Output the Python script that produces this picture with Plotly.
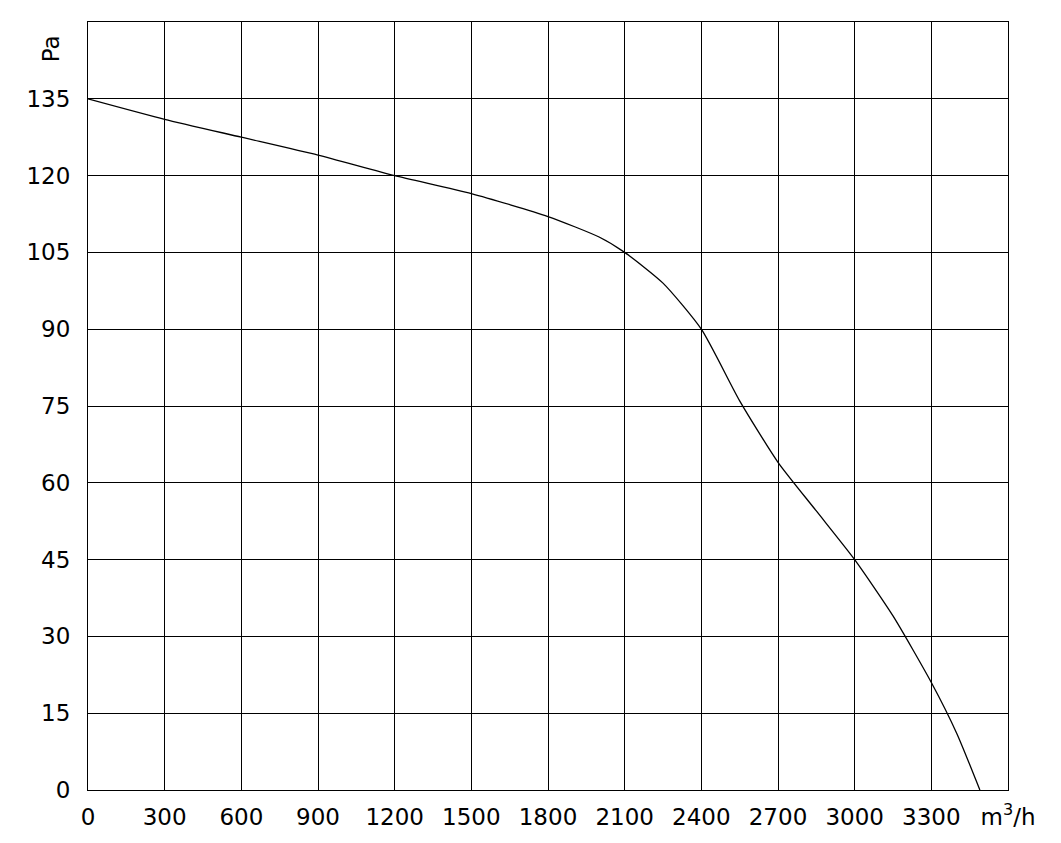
import plotly.graph_objects as go

# fan curve: airflow (m3/h) vs pressure (Pa)
flow = [0, 300, 600, 900, 1200, 1500, 1800, 2000, 2100, 2250, 2400, 2550, 2700, 2850, 3000, 3150, 3300, 3400, 3490]
pressure = [135, 131, 127.5, 124, 120, 116.5, 112, 108, 105, 99, 90, 76, 64, 54.5, 45, 34, 21, 11, 0]

x_ticks = [0, 300, 600, 900, 1200, 1500, 1800, 2100, 2400, 2700, 3000, 3300, 3600]
x_labels = [str(v) for v in x_ticks[:-1]] + ["m<sup>3</sup>/h"]
y_ticks = [0, 15, 30, 45, 60, 75, 90, 105, 120, 135, 150]
y_labels = [str(v) for v in y_ticks[:-1]] + [""]

fig = go.Figure()
fig.add_trace(go.Scatter(x=flow, y=pressure, mode="lines",
                         line=dict(color="black", width=1.3, shape="spline", smoothing=0.6),
                         hoverinfo="skip"))

fig.update_xaxes(range=[0, 3600], tickvals=x_ticks, ticktext=x_labels,
                 showgrid=True, gridcolor="black", gridwidth=1,
                 showline=True, linecolor="black", mirror=True, zeroline=False,
                 ticks="", ticklabelstandoff=6, automargin=False)
fig.update_yaxes(range=[0, 150], tickvals=y_ticks, ticktext=y_labels,
                 showgrid=True, gridcolor="black", gridwidth=1,
                 showline=True, linecolor="black", mirror=True, zeroline=False,
                 ticks="", ticklabelstandoff=12, automargin=False)

fig.add_annotation(text="Pa", xref="paper", yref="paper", x=-0.04, y=0.985,
                   xanchor="center", showarrow=False, textangle=-90,
                   font=dict(size=23, color="black"))

fig.update_layout(
    width=1061, height=843,
    margin=dict(l=80, r=61, t=14, b=61),
    paper_bgcolor="white", plot_bgcolor="white",
    showlegend=False,
    font=dict(family="DejaVu Sans", size=23, color="black"),
)

fig.write_html("out.html")
